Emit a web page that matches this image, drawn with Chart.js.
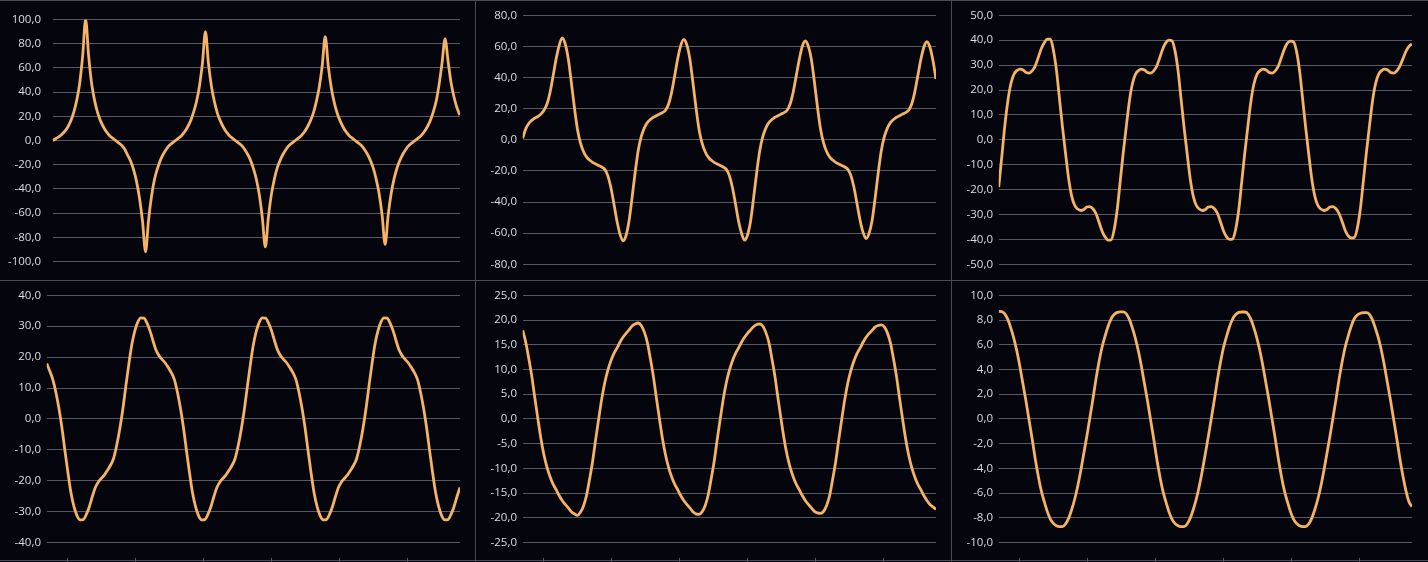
<!DOCTYPE html>
<html>
<head>
<meta charset="utf-8">
<script src="https://cdn.jsdelivr.net/npm/chart.js@4.4.1/dist/chart.umd.min.js"></script>
<style>
  html, body { margin: 0; padding: 0; width: 1428px; height: 562px; overflow: hidden; background: #05050e; }
  .panel { position: absolute; width: 475px; }
  .top { top: 1px; height: 279px; }
  .bottom { top: 281px; height: 290px; }
  .hline { position: absolute; left: 0; width: 1428px; height: 1px; background: #474955; }
  .vline { position: absolute; top: 0; width: 1px; height: 562px; background: #474955; }
</style>
</head>
<body>
<div class="panel top" style="left:0px"><canvas id="chart1"></canvas></div>
<div class="panel top" style="left:476px"><canvas id="chart2"></canvas></div>
<div class="panel top" style="left:952px"><canvas id="chart3"></canvas></div>
<div class="panel bottom" style="left:0px"><canvas id="chart4"></canvas></div>
<div class="panel bottom" style="left:476px"><canvas id="chart5"></canvas></div>
<div class="panel bottom" style="left:952px"><canvas id="chart6"></canvas></div>
<div class="hline" style="top:0px"></div>
<div class="hline" style="top:280px"></div>
<div class="hline" style="top:560px"></div>
<div class="vline" style="left:475px"></div>
<div class="vline" style="left:951px"></div>
<script>
// tick marks on the bottom category axis (sample positions)
var xTicks = [6.9, 29.3, 51.6, 74, 96.3, 118.7];

var ticks1 = [-100, -80, -60, -40, -20, 0, 20, 40, 60, 80, 100];
var ticks2 = [-80, -60, -40, -20, 0, 20, 40, 60, 80];
var ticks3 = [-50, -40, -30, -20, -10, 0, 10, 20, 30, 40, 50];
var ticks4 = [-40, -30, -20, -10, 0, 10, 20, 30, 40];
var ticks5 = [-25, -20, -15, -10, -5, 0, 5, 10, 15, 20, 25];
var ticks6 = [-10, -8, -6, -4, -2, 0, 2, 4, 6, 8, 10];

var values1 = [
  0, 1.5, 3, 5, 7.5, 11, 16, 23, 33, 47, 70, 100, 70, 47, 33, 23, 16, 11, 7, 4, 2,
  0, -2, -4, -7, -12, -17, -24, -34, -48, -67, -92, -66, -46, -32, -23, -16, -11, -7, -4, -2,
  0, 2, 4, 7, 11, 16, 23, 32, 45, 64, 90, 64, 45, 32, 22.5, 16, 11, 7, 4, 2,
  0, -2, -4, -7, -11, -16, -23, -32, -45, -64, -88, -64, -45, -32, -22.5, -16, -11, -7, -4, -2,
  0, 2, 4, 7, 11, 16, 22.5, 32, 44, 62, 86, 62, 44, 31.5, 22.5, 16, 11, 7, 4, 2,
  0, -2, -4, -7, -11, -16, -22.5, -32, -44, -62, -86, -62, -44, -31.5, -22.5, -16, -11, -7, -4, -2,
  0, 2, 4, 7, 11, 16, 23, 32, 46, 64, 84, 66, 48, 36, 27, 21
];

var values2 = [
  1, 7, 10.5, 12.5, 14, 15, 16.5, 19, 23, 30.5, 41, 52, 60.5, 65.5,
  61.5, 52, 37, 21, 7, -2, -7.5, -11, -13, -14.5, -15.5, -16.5, -17.5, -19, -23, -30.5, -41, -52, -60.5, -65,
  -61.5, -52, -37, -21, -7, 2, 7.5, 11, 13, 14.5, 15.5, 16.5, 17.5, 19, 23, 30.5, 41, 52, 60.5, 64.5,
  61, 52, 37, 21, 7, -2, -7.5, -11, -13, -14.5, -15.5, -16.5, -17.5, -19, -23, -30.5, -41, -52, -60, -64.5,
  -61, -52, -37, -21, -7, 2, 7.5, 11, 13, 14.5, 15.5, 16.5, 17.5, 19, 23, 30.5, 41, 51.5, 60, 63.5,
  60, 51.5, 37, 21, 7, -2, -7.5, -11, -13, -14.5, -15.5, -16.5, -17.5, -19, -23, -30.5, -41, -51.5, -59.5, -63.5,
  -60, -51.5, -37, -21, -7, 2, 7.5, 11, 13, 14.5, 15.5, 16.5, 17.5, 19, 23, 30.5, 41, 51.5, 59.5, 63,
  59.5, 51, 39
];

var values3 = [
  -19, -7, 5.5, 15.5, 22.5, 26.3, 27.8, 28.4, 28, 27, 26.8, 27.7, 29.6, 33, 36.6, 39, 40.4,
  40.4, 36, 28, 16.5, 5, -5.5, -15.5, -22.5, -26.3, -27.8, -28.4, -28, -27, -26.8, -27.7, -29.6, -33, -36.6, -39, -40.3,
  -40.2, -36, -28, -16.5, -5, 5.5, 15.5, 22.5, 26.3, 27.8, 28.4, 28, 27, 26.8, 27.7, 29.6, 33, 36.6, 39, 40,
  39.8, 35.8, 28, 16.5, 5, -5.5, -15.5, -22.5, -26.3, -27.8, -28.4, -28, -27, -26.8, -27.7, -29.6, -33, -36.6, -39, -40,
  -39.8, -35.8, -28, -16.5, -5, 5.5, 15.5, 22.5, 26.3, 27.8, 28.4, 28, 27, 26.8, 27.7, 29.6, 33, 36.4, 38.8, 39.6,
  39.4, 35.5, 27.8, 16.5, 5, -5.5, -15.5, -22.5, -26.3, -27.8, -28.4, -28, -27, -26.8, -27.7, -29.6, -32.8, -36.3, -38.6, -39.4,
  -39.2, -35.5, -27.8, -16.5, -5, 5.5, 15.5, 22.5, 26.3, 27.8, 28.4, 28, 27, 26.8, 27.7, 29.6, 32.5, 35.5, 37.5, 38.5
];

var values4 = [
  17.9, 15.5, 12.8, 8.7, 3.5, -2.8, -10.3, -17.5, -24, -28.5, -31.4, -32.7,
  -32.6, -31, -28.5, -25.2, -22.2, -20.4, -19.2, -18.1, -16.6, -15, -12.8, -8.7, -3.5, 2.8, 10.3, 17.5, 24, 28.5, 31.4, 32.7,
  32.6, 31, 28.5, 25.2, 22.2, 20.4, 19.2, 18.1, 16.6, 15, 12.8, 8.7, 3.5, -2.8, -10.3, -17.5, -24, -28.5, -31.4, -32.7,
  -32.6, -31, -28.5, -25.2, -22.2, -20.4, -19.2, -18.1, -16.6, -15, -12.8, -8.7, -3.5, 2.8, 10.3, 17.5, 24, 28.5, 31.4, 32.7,
  32.6, 31, 28.5, 25.2, 22.2, 20.4, 19.2, 18.1, 16.6, 15, 12.8, 8.7, 3.5, -2.8, -10.3, -17.5, -24, -28.5, -31.4, -32.7,
  -32.6, -31, -28.5, -25.2, -22.2, -20.4, -19.2, -18.1, -16.6, -15, -12.8, -8.7, -3.5, 2.8, 10.3, 17.5, 24, 28.5, 31.4, 32.7,
  32.6, 31, 28.5, 25.2, 22.2, 20.4, 19.2, 18.1, 16.6, 15, 12.8, 8.7, 3.5, -2.8, -10.3, -17.5, -24, -28.5, -31.4, -32.7,
  -32.6, -31, -28.5, -25.2, -22.2
];

var values5 = [
  17.9, 15.5, 12.2, 8.6, 4.2, 0, -4, -7.3, -9.8, -11.7, -13.2, -14.3, -15.5, -16.5, -17.3, -18, -18.8, -19.2,
  -19.5, -18.9, -17.6, -15.5, -12.2, -8.6, -4.2, 0, 4, 7.3, 9.8, 11.7, 13.2, 14.3, 15.5, 16.5, 17.3, 18, 18.8, 19.2,
  19.4, 18.9, 17.6, 15.5, 12.2, 8.6, 4.2, 0, -4, -7.3, -9.8, -11.7, -13.2, -14.3, -15.5, -16.5, -17.3, -18, -18.8, -19.2,
  -19.3, -18.8, -17.6, -15.5, -12.2, -8.6, -4.2, 0, 4, 7.3, 9.8, 11.7, 13.2, 14.3, 15.5, 16.5, 17.3, 18, 18.7, 19.1,
  19.2, 18.8, 17.5, 15.5, 12.2, 8.6, 4.2, 0, -4, -7.3, -9.8, -11.7, -13.2, -14.3, -15.5, -16.5, -17.3, -18, -18.7, -19,
  -19.1, -18.7, -17.5, -15.5, -12.2, -8.6, -4.2, 0, 4, 7.3, 9.8, 11.7, 13.2, 14.3, 15.5, 16.5, 17.3, 17.9, 18.6, 18.9,
  19, 18.6, 17.4, 15.4, 12.2, 8.6, 4.2, 0, -4, -7.3, -9.8, -11.7, -13.2, -14.3, -15.5, -16.5, -17.3, -17.8, -18.3
];

var values6 = [
  8.7,
  8.68, 8.5, 8.05, 7.35, 6.5, 5.45, 4.2, 2.8, 1.4, -0.1, -1.6, -3.2, -4.6, -5.8, -6.7, -7.5, -8.1, -8.45, -8.65, -8.72,
  -8.72, -8.5, -8.05, -7.35, -6.5, -5.45, -4.2, -2.8, -1.4, 0.1, 1.6, 3.2, 4.6, 5.8, 6.7, 7.5, 8.1, 8.45, 8.62, 8.66,
  8.66, 8.5, 8.05, 7.35, 6.5, 5.45, 4.2, 2.8, 1.4, -0.1, -1.6, -3.2, -4.6, -5.8, -6.7, -7.5, -8.1, -8.45, -8.65, -8.72,
  -8.72, -8.5, -8.05, -7.35, -6.5, -5.45, -4.2, -2.8, -1.4, 0.1, 1.6, 3.2, 4.6, 5.8, 6.7, 7.5, 8.1, 8.45, 8.62, 8.65,
  8.65, 8.5, 8.05, 7.35, 6.5, 5.45, 4.2, 2.8, 1.4, -0.1, -1.6, -3.2, -4.6, -5.8, -6.7, -7.5, -8.1, -8.45, -8.65, -8.72,
  -8.72, -8.5, -8.05, -7.35, -6.5, -5.45, -4.2, -2.8, -1.4, 0.1, 1.6, 3.2, 4.6, 5.8, 6.7, 7.5, 8.1, 8.4, 8.55, 8.6,
  8.6, 8.45, 8, 7.3, 6.5, 5.45, 4.2, 2.8, 1.4, -0.1, -1.6, -3.2, -4.6, -5.8, -6.7, -7.1
];

var LINE_COLOR = '#f4b366';
var GRID_COLOR = '#565864';
var TEXT_COLOR = '#dcdce2';

function formatTick(v) {
    var s = Number(v).toFixed(1).replace('.', ',');
    return s === '-0,0' ? '0,0' : s;
}

function createChart(id, values, yTicks, axisWidth, bottomRow) {
    var yMin = yTicks[0];
    var yMax = yTicks[yTicks.length - 1];
    // bottom row: plot area runs down to the frame line so the axis ticks sit on it
    if (bottomRow) {
        yMin = yMin - (yMax - yMin) * 16 / 249;
    }
    return new Chart(document.getElementById(id).getContext('2d'), {
        type: 'line',
        data: {
            datasets: [{
                data: values.map(function(v, i) { return { x: i, y: v }; }),
                borderColor: LINE_COLOR,
                borderWidth: 2.8,
                pointRadius: 0,
                fill: false,
                cubicInterpolationMode: 'monotone'
            }]
        },
        options: {
            responsive: true,
            maintainAspectRatio: false,
            animation: false,
            events: [],
            layout: {
                padding: { top: 14.3, right: 15, bottom: bottomRow ? 4.7 : 15.7, left: 0 }
            },
            plugins: {
                legend: { display: false },
                tooltip: { enabled: false }
            },
            scales: {
                x: {
                    type: 'linear',
                    display: bottomRow,
                    min: 0,
                    max: values.length - 1,
                    afterBuildTicks: function(scale) {
                        scale.ticks = xTicks.map(function(v) { return { value: v }; });
                    },
                    grid: { drawOnChartArea: false, drawTicks: true, tickLength: 6, color: GRID_COLOR },
                    border: { display: false },
                    ticks: { display: false }
                },
                y: {
                    min: yMin,
                    max: yMax,
                    afterBuildTicks: function(scale) {
                        scale.ticks = yTicks.map(function(v) { return { value: v }; });
                    },
                    afterFit: function(scale) {
                        scale.width = axisWidth;
                    },
                    grid: { color: GRID_COLOR, lineWidth: 1, drawTicks: false },
                    border: { display: false },
                    ticks: {
                        color: TEXT_COLOR,
                        padding: axisWidth - 41,
                        font: { family: 'Open Sans', size: 11.5 },
                        callback: function(v) { return formatTick(v); }
                    }
                }
            }
        }
    });
}

createChart('chart1', values1, ticks1, 52.7, false);
createChart('chart2', values2, ticks2, 46.7, false);
createChart('chart3', values3, ticks3, 46.7, false);
createChart('chart4', values4, ticks4, 46.7, true);
createChart('chart5', values5, ticks5, 46.7, true);
createChart('chart6', values6, ticks6, 46.7, true);
</script>
</body>
</html>
